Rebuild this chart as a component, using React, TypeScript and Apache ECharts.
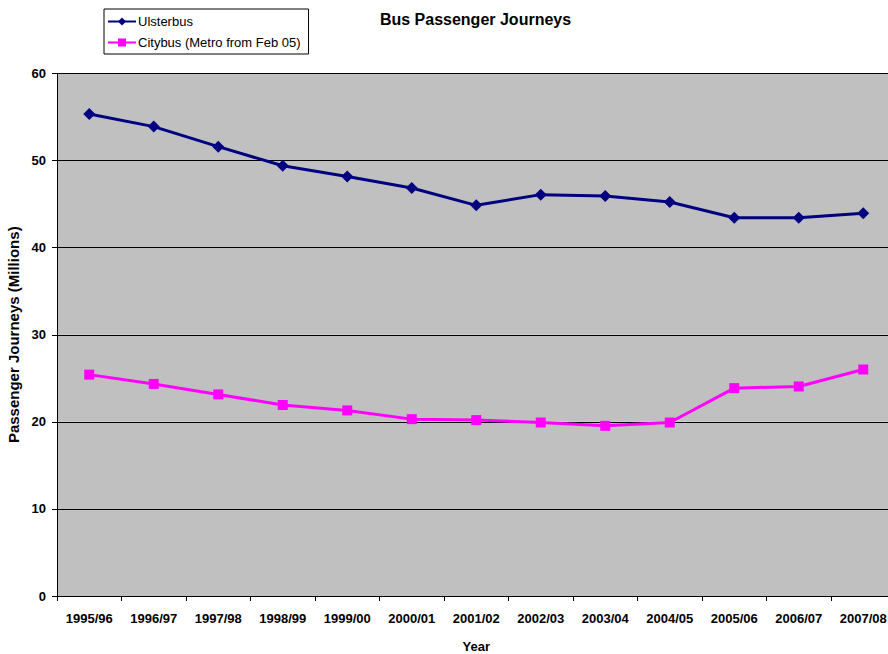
import React, { useEffect, useRef } from "react";
import * as echarts from "echarts";

// Financial years along the x axis
const years = [
  "1995/96", "1996/97", "1997/98", "1998/99", "1999/00", "2000/01", "2001/02",
  "2002/03", "2003/04", "2004/05", "2005/06", "2006/07", "2007/08",
];

// Passenger journeys, millions
const ulsterbus = [55.35, 53.9, 51.6, 49.4, 48.17, 46.85, 44.86, 46.09, 45.93, 45.24, 43.44, 43.44, 43.94];
const citybus = [25.42, 24.35, 23.15, 21.93, 21.31, 20.31, 20.2, 19.92, 19.54, 19.92, 23.87, 24.06, 26.01];

const yTicks = { min: 0, max: 60, interval: 10 };

const FONT = "'Liberation Sans', Arial, sans-serif";

export default function App() {
  const ref = useRef<HTMLDivElement>(null);

  useEffect(() => {
    if (!ref.current) return;
    const chart = echarts.init(ref.current, undefined, { renderer: "svg" });
    chart.setOption({
      animation: false,
      backgroundColor: "#ffffff",
      textStyle: { fontFamily: FONT },
      title: {
        text: "Bus Passenger Journeys",
        left: 475.5,
        top: 11,
        padding: 0,
        textAlign: "center",
        textStyle: { fontFamily: FONT, fontSize: 16, fontWeight: "bold", color: "#000" },
      },
      legend: {
        orient: "vertical",
        left: 104,
        top: 9,
        width: 204,
        padding: [6, 8, 5, 3],
        itemGap: 8,
        itemWidth: 28,
        itemHeight: 10,
        backgroundColor: "#ffffff",
        borderColor: "#000",
        borderWidth: 1,
        borderRadius: 0,
        textStyle: { fontFamily: FONT, fontSize: 13, color: "#000", padding: [0, 0, 0, -3] },
        data: ["Ulsterbus", "Citybus (Metro from Feb 05)"],
      },
      // plot area runs past the right edge of the canvas
      grid: {
        left: 57,
        top: 73.5,
        width: 838.5,
        height: 522.5,
        containLabel: false,
        outerBoundsMode: "none",
      },
      xAxis: {
        type: "category",
        data: years,
        boundaryGap: true,
        name: "Year",
        nameLocation: "middle",
        nameGap: 43,
        nameTextStyle: { fontFamily: FONT, fontSize: 13, fontWeight: "bold", color: "#000", lineHeight: 14 },
        axisLine: { lineStyle: { color: "#000", width: 1 } },
        axisTick: { show: true, length: 5, lineStyle: { color: "#000" } },
        axisLabel: { fontFamily: FONT, fontSize: 13, fontWeight: "bold", color: "#000", margin: 16, interval: 0 },
        splitLine: { show: false },
      },
      yAxis: {
        type: "value",
        min: yTicks.min,
        max: yTicks.max,
        interval: yTicks.interval,
        name: "Passenger Journeys (Millions)",
        nameLocation: "middle",
        nameGap: 33,
        nameTextStyle: { fontFamily: FONT, fontSize: 15, fontWeight: "bold", color: "#000" },
        axisLine: { show: true, lineStyle: { color: "#000", width: 1 } },
        axisTick: { show: true, length: 5, lineStyle: { color: "#000" } },
        axisLabel: { fontFamily: FONT, fontSize: 13, fontWeight: "bold", color: "#000", margin: 11 },
        splitLine: { show: true, lineStyle: { color: "#000", width: 1 } },
        splitArea: { show: true, areaStyle: { color: ["#c0c0c0", "#c0c0c0"] } },
      },
      series: [
        {
          name: "Ulsterbus",
          type: "line",
          data: ulsterbus,
          symbol: "diamond",
          symbolSize: 12,
          lineStyle: { color: "#000080", width: 3 },
          itemStyle: { color: "#000080" },
        },
        {
          name: "Citybus (Metro from Feb 05)",
          type: "line",
          data: citybus,
          symbol: "rect",
          symbolSize: 10,
          lineStyle: { color: "#ff00ff", width: 3 },
          itemStyle: { color: "#ff00ff" },
        },
      ],
    });
    return () => chart.dispose();
  }, []);

  return <div ref={ref} style={{ width: 888, height: 654, position: "absolute", left: 0, top: 0 }} />;
}
